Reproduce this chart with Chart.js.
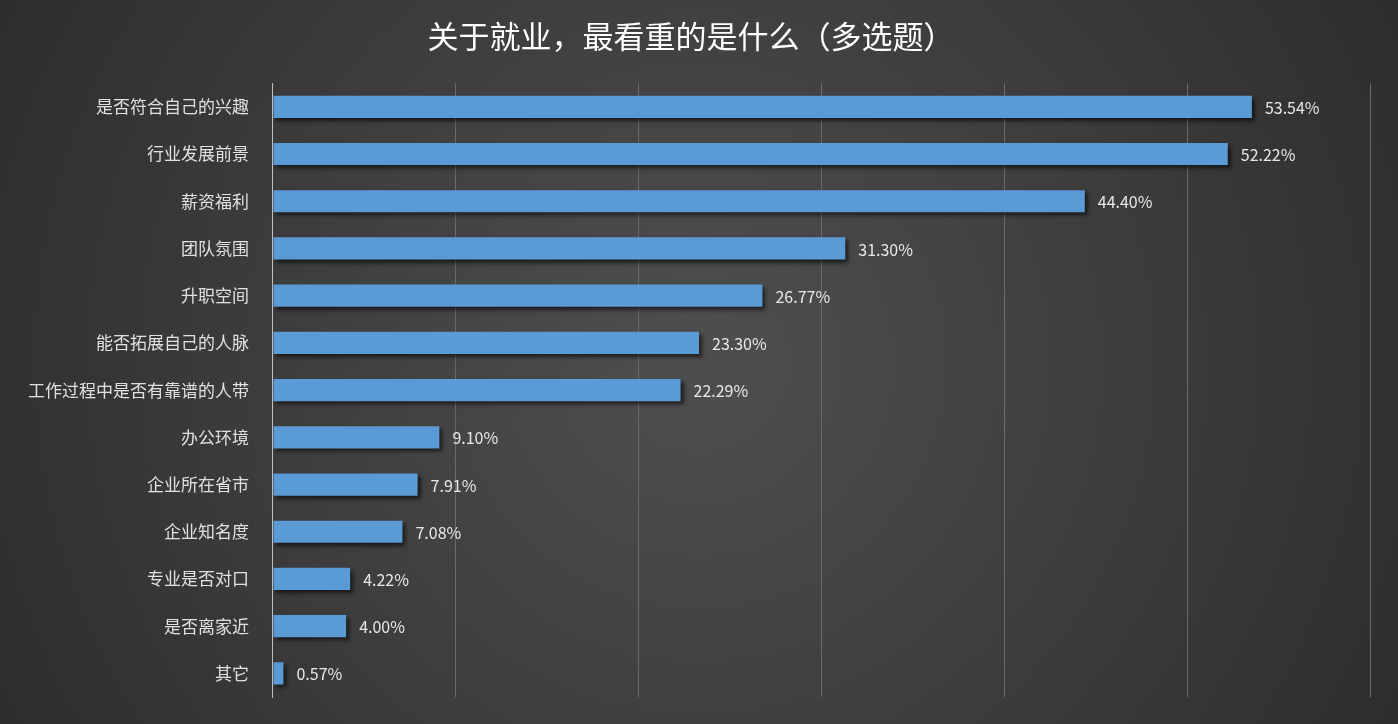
<!DOCTYPE html>
<html><head><meta charset="utf-8">
<script src="https://cdn.jsdelivr.net/npm/chart.js@4"></script>
<style>html,body{margin:0;padding:0;background:#333;}</style>
</head><body><canvas id="c" width="1398" height="724" style="display:block;width:1398px;height:724px"></canvas>
<script>
const categories = ["是否符合自己的兴趣","行业发展前景","薪资福利","团队氛围","升职空间","能否拓展自己的人脉","工作过程中是否有靠谱的人带","办公环境","企业所在省市","企业知名度","专业是否对口","是否离家近","其它"];
const values = [53.54,52.22,44.40,31.30,26.77,23.30,22.29,9.10,7.91,7.08,4.22,4.00,0.57];
const title = "关于就业，最看重的是什么（多选题）";
const FONT = "'Noto Sans CJK SC','Noto Sans',sans-serif";

const bg = {id:'bg',beforeDraw(ch){const {ctx,width,height}=ch;const g=ctx.createRadialGradient(width/2,height/2,50,width/2,height/2,width*0.6);g.addColorStop(0,'#4d4d4d');g.addColorStop(1,'#2b2b2b');ctx.save();ctx.fillStyle=g;ctx.fillRect(0,0,width,height);ctx.restore();}};
const labels = {id:'lbl',afterDatasetsDraw(ch){const {ctx}=ch;const m=ch.getDatasetMeta(0);ctx.save();ctx.fillStyle='#e8e8e8';ctx.font="16px "+FONT;ctx.textBaseline='middle';m.data.forEach((b,i)=>{ctx.fillText(values[i].toFixed(2)+'%',b.x+13,b.y+1);});ctx.restore();}};
const shadow = {id:'sh',beforeDatasetsDraw(ch){ch.ctx.save();ch.ctx.shadowColor='rgba(0,0,0,0.6)';ch.ctx.shadowOffsetX=3;ch.ctx.shadowOffsetY=3;ch.ctx.shadowBlur=4;},afterDatasetsDraw(ch){ch.ctx.restore();}};

new Chart(document.getElementById('c'),{
 type:'bar',
 data:{labels:categories,datasets:[{data:values,barPercentage:0.47,categoryPercentage:1,
  backgroundColor:(c)=>{const m=c.chart.getDatasetMeta(0).data[c.dataIndex];if(!m||!isFinite(m.y))return '#5b9bd5';const g=c.chart.ctx.createLinearGradient(0,m.y-11,0,m.y+11);g.addColorStop(0,'#78b0e6');g.addColorStop(1,'#4a8ccf');return g;}}]},
 options:{indexAxis:'y',responsive:false,animation:false,maintainAspectRatio:false,devicePixelRatio:1,
  layout:{padding:{top:0,right:28,bottom:27,left:12}},
  plugins:{legend:{display:false},tooltip:{enabled:false},
   title:{display:true,text:title,color:'#ffffff',font:{family:FONT,size:31,weight:'normal'},padding:{top:18,bottom:28}}},
  scales:{
   x:{min:0,max:60,ticks:{display:false,stepSize:10},grid:{color:'#6a6a6a',lineWidth:1,drawTicks:false},border:{display:false}},
   y:{ticks:{color:'#e0e0e0',font:{family:FONT,size:17},padding:16},grid:{display:false},border:{color:'#bfbfbf',width:1}}
  }},
 plugins:[bg,shadow,labels]
});
</script></body></html>
